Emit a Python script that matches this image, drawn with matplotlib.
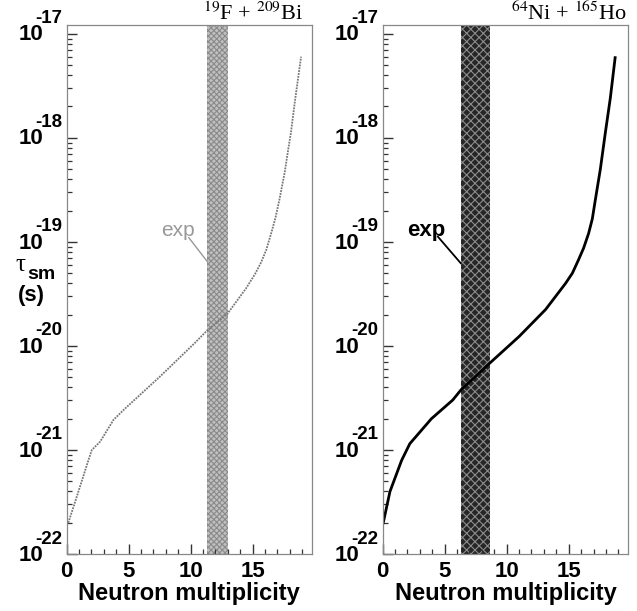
import numpy as np
import matplotlib
matplotlib.use("Agg")
import matplotlib.pyplot as plt
from matplotlib import transforms
from matplotlib.ticker import LogLocator, NullFormatter, MultipleLocator

plt.rcParams['font.family'] = ['Liberation Sans', 'DejaVu Sans']
plt.rcParams['mathtext.fontset'] = 'stix'
plt.rcParams['hatch.linewidth'] = 0.8

# 19F + 209Bi : tau_sm (log10 s) vs neutron multiplicity
bi_mult = [0.13, 0.81, 1.75, 2.03, 2.70, 3.78, 4.73, 7.57, 10.27, 11.35,
           12.98, 14.46, 15.2, 15.68, 16.1, 16.5, 16.85, 17.16, 17.6, 17.87,
           18.1, 18.43, 18.92]
bi_logtau = [-21.70, -21.45, -21.10, -21.00, -20.92, -20.71, -20.60, -20.29, -19.98, -19.85,
             -19.69, -19.45, -19.31, -19.20, -19.08, -18.92, -18.77, -18.60, -18.33, -18.12,
             -17.95, -17.64, -17.22]
bi_exp = (11.35, 13.0)

# 64Ni + 165Ho
ho_mult = [0.06, 0.6, 1.54, 2.2, 3.94, 5.66, 6.34, 8.6, 11.0, 13.14,
           14.74, 15.3, 15.8, 16.2, 16.6, 16.9, 17.14, 17.55, 17.94, 18.35, 18.74]
ho_logtau = [-21.70, -21.40, -21.10, -20.94, -20.70, -20.52, -20.42, -20.17, -19.91, -19.65,
             -19.40, -19.30, -19.17, -19.06, -18.92, -18.78, -18.60, -18.30, -17.96, -17.62, -17.23]
ho_exp = (6.34, 8.66)

# "exp" labels: text position and leader line (mult, log10 tau)
bi_exp_text = (8.96, -18.89)
bi_exp_line = ([9.86, 11.35], [-18.96, -19.19])
ho_exp_text = (3.52, -18.89)
ho_exp_line = ([4.46, 6.3], [-18.95, -19.205])

decades = [-22, -21, -20, -19, -18, -17]
xmax = 19.8

W, H = 637, 611
fig = plt.figure(figsize=(W / 100, H / 100), dpi=100)
ax1 = fig.add_axes([66.7 / W, 57 / H, 245.3 / W, 529 / H])
ax2 = fig.add_axes([382.5 / W, 57 / H, 245.8 / W, 529 / H])


def setup(ax, title, title_dx):
    ax.set_yscale('log')
    ax.set_xlim(0, xmax)
    ax.set_ylim(1e-22, 10 ** -16.916)
    ax.xaxis.set_major_locator(MultipleLocator(5))
    ax.xaxis.set_minor_locator(MultipleLocator(1))
    ax.yaxis.set_major_locator(LogLocator(base=10, numticks=20))
    ax.yaxis.set_minor_locator(LogLocator(base=10, subs=np.arange(2, 10), numticks=20))
    ax.yaxis.set_major_formatter(NullFormatter())
    ax.yaxis.set_minor_formatter(NullFormatter())
    ax.tick_params(which='both', direction='in', top=False, right=False, color='#333333')
    ax.tick_params(which='major', length=7, width=1.0)
    ax.tick_params(which='minor', length=3.5, width=0.9)
    ax.tick_params(axis='x', labelsize=16, pad=5)
    for lab in ax.get_xticklabels():
        lab.set_fontweight('bold')
    for s in ax.spines.values():
        s.set_color('#888888')
        s.set_linewidth(0.9)
    ax.set_xlabel('Neutron multiplicity', fontsize=17, fontweight='bold', labelpad=0)

    base = transforms.blended_transform_factory(ax.transAxes, ax.transData)
    for d in decades:
        t10 = base + transforms.ScaledTranslation(-0.23, -0.012, fig.dpi_scale_trans)
        ax.text(0, 10.0 ** d, '10', transform=t10, ha='right', va='center',
                fontsize=16, fontweight='bold', clip_on=False)
        te = base + transforms.ScaledTranslation(-0.045, 0.105, fig.dpi_scale_trans)
        ax.text(0, 10.0 ** d, str(d), transform=te, ha='right', va='baseline',
                fontsize=13.5, fontweight='bold', clip_on=False)

    tt = ax.transAxes + transforms.ScaledTranslation(title_dx, 0.05, fig.dpi_scale_trans)
    ax.text(1, 1, title, transform=tt, ha='right', va='baseline', fontsize=16,
            family='Liberation Serif')


setup(ax1, r'$^{19}$F + $^{209}$Bi', -0.09)
setup(ax2, r'$^{64}$Ni + $^{165}$Ho', -0.01)

# left panel
ax1.axvspan(*bi_exp, facecolor='#c0c0c0', edgecolor='#8a8a8a', hatch='xxxxxx', linewidth=0, zorder=1)
ax1.plot(bi_mult, 10.0 ** np.array(bi_logtau), color='#777777', lw=1.3,
         linestyle=(0, (1, 0.6)), zorder=2)
ax1.text(bi_exp_text[0], 10 ** bi_exp_text[1], 'exp', color='#999999', fontsize=15,
         ha='center', va='center')
ax1.plot(bi_exp_line[0], 10.0 ** np.array(bi_exp_line[1]), color='#999999', lw=1)

# right panel
ax2.axvspan(*ho_exp, facecolor='#262626', edgecolor='#8c8c8c', hatch='xxxx', linewidth=0, zorder=1)
ax2.plot(ho_mult, 10.0 ** np.array(ho_logtau), color='black', lw=2.0, zorder=2)
ax2.text(ho_exp_text[0], 10 ** ho_exp_text[1], 'exp', color='black', fontsize=16,
         fontweight='bold', ha='center', va='center')
ax2.plot(ho_exp_line[0], 10.0 ** np.array(ho_exp_line[1]), color='black', lw=1.3)

# y axis title
fig.text(15 / W, 1 - 271 / H, 'τ', fontsize=18, family='Liberation Serif', va='baseline')
fig.text(27 / W, 1 - 279 / H, 'sm', fontsize=14, fontweight='bold', va='baseline')
fig.text(31 / W, 1 - 301 / H, '(s)', fontsize=16, fontweight='bold', va='baseline', ha='center')

fig.savefig('out.png', dpi=100)
